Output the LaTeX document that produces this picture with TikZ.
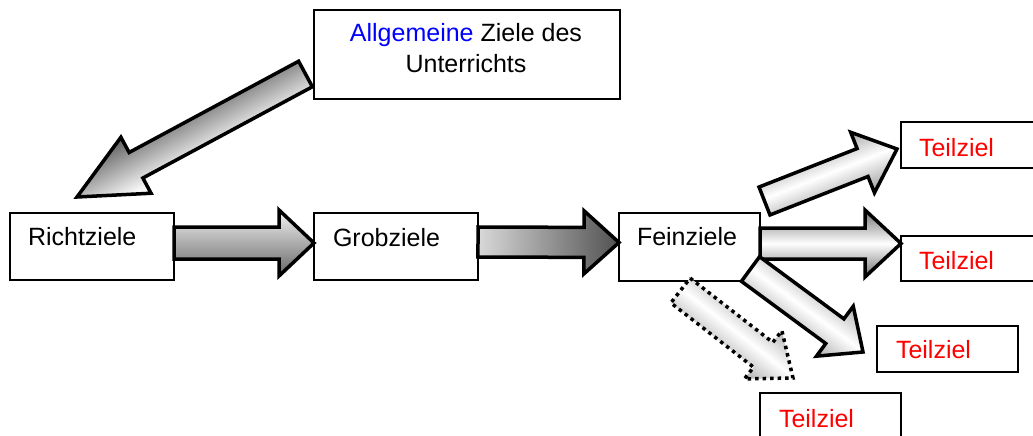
\documentclass[tikz,border=0pt]{standalone}
\usepackage{fontspec}
\setmainfont{Liberation Sans}
\usetikzlibrary{calc}
\pgfdeclarehorizontalshading{whitemid}{100bp}{color(0bp)=(black!55); color(25bp)=(black!55); color(50bp)=(white); color(75bp)=(black!55); color(100bp)=(black!55)}
\pgfdeclarehorizontalshading{steepgray}{100bp}{color(0bp)=(black!3); color(42bp)=(black!3); color(58bp)=(black!62); color(100bp)=(black!62)}
\tikzset{
  box/.style={draw=black, line width=2.2pt, fill=white, rectangle, inner sep=0pt, outer sep=0pt},
  lbl/.style={anchor=base west, inner sep=0pt, outer sep=0pt, font=\fontsize{25}{30}\selectfont},
  redlbl/.style={lbl, text=red},
  blk/.style={draw=black, line width=3.5pt, line join=miter, miter limit=10},
  dotblk/.style={blk, dash pattern=on 3.5pt off 4pt},
  whiteshade/.style={shading=whitemid, shading angle=#1},
}
\newcommand{\blockarr}[6]{%
  \coordinate (bh) at ($(#3)!#6!(#2)$);
  \path[#1] ($(#2)!#4!90:(#3)$) -- ($(bh)!#4!90:(#3)$) -- ($(bh)!#5!90:(#3)$) -- (#3)
    -- ($(bh)!#5!-90:(#3)$) -- ($(bh)!#4!-90:(#3)$) -- ($(#2)!#4!-90:(#3)$) -- cycle;
}
\begin{document}
\begin{tikzpicture}[x=1pt,y=-1pt]
\useasboundingbox (0,0) rectangle (1033,436);
\clip (0,0) rectangle (1033,436);
% boxes
\node[box, minimum width=306pt, minimum height=89pt] (allg) at (467,54.5) {};
\node[box, minimum width=164pt, minimum height=67pt] (richt) at (92,246.5) {};
\node[box, minimum width=164pt, minimum height=67pt] (grob) at (396,246.5) {};
\node[box, minimum width=141pt, minimum height=68pt] (fein) at (689.5,247) {};
\node[box, minimum width=141pt, minimum height=46pt] (teil1) at (971.5,145) {};
\node[box, minimum width=141pt, minimum height=45pt] (teil2) at (971.5,258.5) {};
\node[box, minimum width=141pt, minimum height=46pt] (teil3) at (947.5,349) {};
\node[box, minimum width=141pt, minimum height=46pt] (teil4) at (830.5,416) {};
% texts
\node[font=\fontsize{25}{30}\selectfont, align=center, anchor=base, inner sep=0pt] (allgT) at (466,72) {\textcolor{blue}{Allgemeine} Ziele des\\Unterrichts};
\node[lbl] (richtT) at (28,245) {Richtziele};
\node[lbl] (grobT) at (333,246) {Grobziele};
\node[lbl] (feinT) at (637,245) {Feinziele};
\node[redlbl] (teil1T) at (919,156) {Teilziel};
\node[redlbl] (teil2T) at (919,269) {Teilziel};
\node[redlbl] (teil3T) at (896,358) {Teilziel};
\node[redlbl] (teil4T) at (779,427) {Teilziel};
% arrow end points
\coordinate (a1s) at (305.5,74);   \coordinate (a1e) at (77,197);
\coordinate (a2s) at ([yshift=3.5pt]richt.east); \coordinate (a2e) at ([yshift=3.5pt]grob.west);
\coordinate (a3s) at ([yshift=4.5pt]grob.east);  \coordinate (a3e) at ([yshift=4.5pt]fein.west);
\coordinate (a4s) at (764.5,201);  \coordinate (a4e) at (897,149);
\coordinate (a5s) at ([yshift=3.5pt]fein.east);  \coordinate (a5e) at (teil2.west |- a5s);
\coordinate (a6s) at (750.5,269);  \coordinate (a6e) at (863,352);
\coordinate (a7s) at (680.5,290.5); \coordinate (a7e) at (793,378);
% block arrows
\blockarr{blk, shading=steepgray, shading angle=118}{a1s}{a1e}{14.5pt}{31.8pt}{67pt}
\blockarr{blk, top color=black!5, bottom color=black!60}{a2s}{a2e}{16pt}{33pt}{35pt}
\blockarr{blk, left color=black!15, right color=black!68}{a3s}{a3e}{15pt}{31.5pt}{35pt}
\blockarr{blk, whiteshade=111.4}{a4s}{a4e}{15pt}{32.5pt}{37pt}
\blockarr{blk, whiteshade=90}{a5s}{a5e}{15.5pt}{33.5pt}{36pt}
\blockarr{blk, whiteshade=53.6}{a6s}{a6e}{15.3pt}{31pt}{35pt}
\blockarr{dotblk, whiteshade=52}{a7s}{a7e}{15.7pt}{30.5pt}{37.8pt}
\end{tikzpicture}
\end{document}
